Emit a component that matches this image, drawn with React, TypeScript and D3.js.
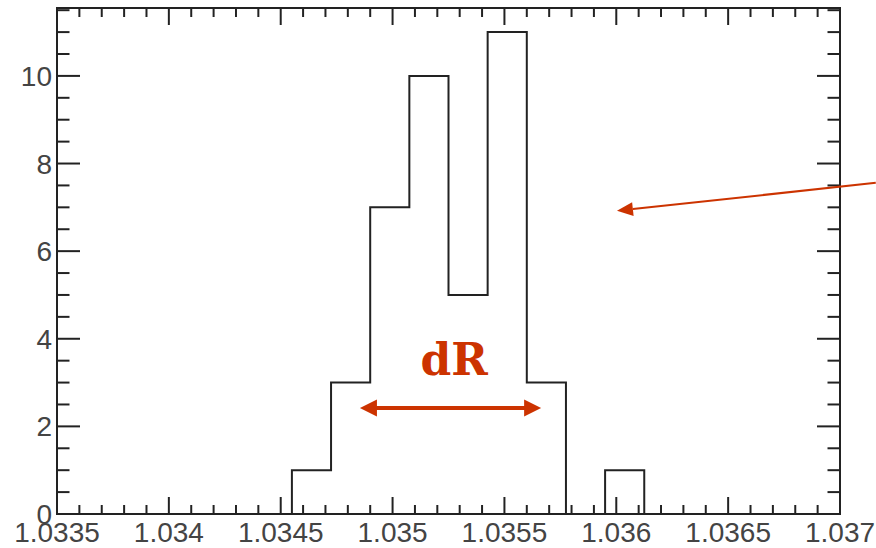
import React from 'react';
import * as d3 from 'd3';

// histogram: 20 bins from 1.0335 to 1.037
const binLow = 1.0335;
const binHigh = 1.037;
const counts = [0, 0, 0, 0, 0, 0, 1, 3, 7, 10, 5, 11, 3, 0, 1, 0, 0, 0, 0, 0];
const xTickValues = [1.0335, 1.034, 1.0345, 1.035, 1.0355, 1.036, 1.0365, 1.037];
const xTickLabels = ['1.0335', '1.034', '1.0345', '1.035', '1.0355', '1.036', '1.0365', '1.037'];
const yTickValues = [0, 2, 4, 6, 8, 10];
const yMax = 11.55;

// annotation anchors in data units
const dRArrow = [1.034854, 1.035664];
const dRLevel = 2.42;
const dRLabel = { x: 1.035275, y: 3.17, text: 'dR' };
const pointer = { from: [1.03716, 7.56], to: [1.036003, 6.92] };

const W = 876;
const H = 548;
const frame = { left: 57, right: 840, top: 8, bottom: 514 };
const red = '#cc3300';
const ink = '#222';

const App = () => {
  const x = d3.scaleLinear().domain([binLow, binHigh]).range([frame.left, frame.right]);
  const y = d3.scaleLinear().domain([0, yMax]).range([frame.bottom, frame.top]);

  const nb = counts.length;
  const bw = (binHigh - binLow) / nb;

  // step outline of the histogram
  const pts: [number, number][] = [];
  counts.forEach((c, i) => {
    const x0 = binLow + i * bw;
    const x1 = x0 + bw;
    pts.push([x(x0), y(c)]);
    pts.push([x(x1), y(c)]);
  });
  const histPath = d3.line()(pts) || '';

  const xMinor = d3.range(0, 36).map(i => binLow + i * 0.0001);
  const yMinor = d3.range(0, 24).map(i => i * 0.5);

  const ax1 = x(dRArrow[0]);
  const ax2 = x(dRArrow[1]);
  const ay = y(dRLevel);
  const hl = 17;
  const hh = 8.5;

  const px1 = x(pointer.from[0]);
  const py1 = y(pointer.from[1]);
  const px2 = x(pointer.to[0]);
  const py2 = y(pointer.to[1]);
  const ang = Math.atan2(py1 - py2, px1 - px2);
  const ph = 16;
  const pw = 7;
  const bx = px2 + ph * Math.cos(ang);
  const by = py2 + ph * Math.sin(ang);
  const nx = -Math.sin(ang) * pw;
  const ny = Math.cos(ang) * pw;

  return (
    <div style={{ position: 'absolute', left: 0, top: 0 }}>
      <svg width={W} height={H} style={{ display: 'block', background: '#fff' }}>
        {/* histogram */}
        <path d={histPath} fill="none" stroke={ink} strokeWidth={2} />

        {/* x ticks bottom + top */}
        {xMinor.map((v, i) => {
          const major = i % 5 === 0;
          const len = major ? 17 : 9;
          const xp = x(v);
          return (
            <g key={'xt' + i}>
              <line x1={xp} x2={xp} y1={frame.bottom} y2={frame.bottom - len} stroke={ink} strokeWidth={2} />
              <line x1={xp} x2={xp} y1={frame.top} y2={frame.top + len} stroke={ink} strokeWidth={2} />
            </g>
          );
        })}

        {/* y ticks left + right */}
        {yMinor.map((v, i) => {
          const major = i % 4 === 0;
          const len = major ? 23 : 12.5;
          const yp = y(v);
          return (
            <g key={'yt' + i}>
              <line x1={frame.left} x2={frame.left + len} y1={yp} y2={yp} stroke={ink} strokeWidth={2} />
              <line x1={frame.right} x2={frame.right - len} y1={yp} y2={yp} stroke={ink} strokeWidth={2} />
            </g>
          );
        })}

        {/* frame */}
        <rect
          x={frame.left}
          y={frame.top}
          width={frame.right - frame.left}
          height={frame.bottom - frame.top}
          fill="none"
          stroke={ink}
          strokeWidth={2}
        />

        {/* y labels */}
        {yTickValues.map(v => (
          <text
            key={'yl' + v}
            x={frame.left - 5}
            y={y(v)}
            dy="0.36em"
            textAnchor="end"
            fontFamily="'Liberation Sans', Arial, sans-serif"
            fontSize={28}
            fill="#444"
          >
            {v}
          </text>
        ))}

        {/* x labels */}
        {xTickValues.map((v, i) => (
          <text
            key={'xl' + i}
            x={x(v)}
            y={542}
            textAnchor="middle"
            fontFamily="'Liberation Sans', Arial, sans-serif"
            fontSize={28}
            fill="#444"
          >
            {xTickLabels[i]}
          </text>
        ))}

        {/* dR annotation */}
        <line x1={ax1 + hl - 2} x2={ax2 - hl + 2} y1={ay} y2={ay} stroke={red} strokeWidth={4} />
        <polygon points={`${ax1},${ay} ${ax1 + hl},${ay - hh} ${ax1 + hl},${ay + hh}`} fill={red} />
        <polygon points={`${ax2},${ay} ${ax2 - hl},${ay - hh} ${ax2 - hl},${ay + hh}`} fill={red} />
        <text
          x={x(dRLabel.x)}
          y={y(dRLabel.y)}
          textAnchor="middle"
          fontFamily="'DejaVu Serif', serif"
          fontWeight="bold"
          fontSize={44}
          fill={red}
        >
          {dRLabel.text}
        </text>

        {/* pointer arrow */}
        <line x1={px1} y1={py1} x2={bx} y2={by} stroke={red} strokeWidth={2} />
        <polygon points={`${px2},${py2} ${bx + nx},${by + ny} ${bx - nx},${by - ny}`} fill={red} />
      </svg>
    </div>
  );
};

export default App;
